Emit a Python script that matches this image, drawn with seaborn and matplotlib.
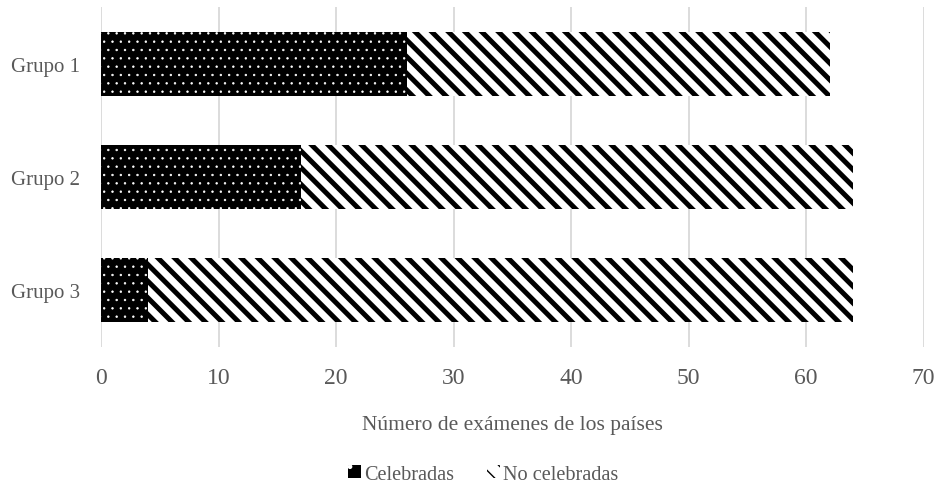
import matplotlib
matplotlib.use("Agg")
import matplotlib.pyplot as plt
import seaborn as sns
import pandas as pd
from matplotlib.patches import Patch

# Exam counts per group
grupos = ["Grupo 1", "Grupo 2", "Grupo 3"]
celebradas = [26, 17, 4]
no_celebradas = [36, 47, 60]
x_ticks = [0, 10, 20, 30, 40, 50, 60, 70]

df = pd.DataFrame({"grupo": grupos, "celebradas": celebradas, "no_celebradas": no_celebradas})
df["total"] = df["celebradas"] + df["no_celebradas"]

sns.set_theme(style="white")
plt.rcParams["font.family"] = ["Liberation Serif", "DejaVu Serif"]
GRAY = "#595959"
STRIPES = "\\\\"
DOTS = ".."

fig = plt.figure(figsize=(9.38, 4.85), dpi=100)
ax = fig.add_axes([0.1077, 0.2825, 0.877, 0.701])

# Striped segment: drawn as the full stack, the solid segment covers its start
with plt.rc_context({"hatch.linewidth": 3.6}):
    sns.barplot(data=df, x="total", y="grupo", orient="h", ax=ax, color="white",
                saturation=1, width=0.565, hatch=STRIPES, edgecolor="black", linewidth=0)

with plt.rc_context({"hatch.linewidth": 0.5}):
    sns.barplot(data=df, x="celebradas", y="grupo", orient="h", ax=ax, color="black",
                saturation=1, width=0.565, hatch=DOTS, edgecolor="white", linewidth=0)

ax.set_xlim(0, 70)
ax.set_xticks(x_ticks)
ax.set_xticklabels([str(t) for t in x_ticks])
ax.grid(axis="x", color="#d9d9d9", linewidth=1.3)
ax.set_axisbelow(True)
for s in ax.spines.values():
    s.set_visible(False)

ax.tick_params(axis="x", length=0, pad=14.5, labelsize=17, labelcolor=GRAY)
ax.tick_params(axis="y", length=0, pad=15, labelsize=15, labelcolor=GRAY)
ax.set_ylabel("")
ax.set_xlabel("Número de exámenes de los países", fontsize=15.5, color=GRAY, labelpad=19)

with plt.rc_context({"hatch.linewidth": 3.6}):
    h2 = Patch(facecolor="white", edgecolor="black", hatch=STRIPES, linewidth=0)
with plt.rc_context({"hatch.linewidth": 0.5}):
    h1 = Patch(facecolor="black", edgecolor="white", hatch=".", linewidth=0)

fig.legend([h1, h2], ["Celebradas", "No celebradas"], loc="center",
           bbox_to_anchor=(0.515, 0.02), ncol=2, frameon=False,
           fontsize=14.6, labelcolor=GRAY, handlelength=0.65, handleheight=0.65,
           handletextpad=0.15, columnspacing=1.6, borderaxespad=0)

fig.savefig("out.png", dpi=100)
